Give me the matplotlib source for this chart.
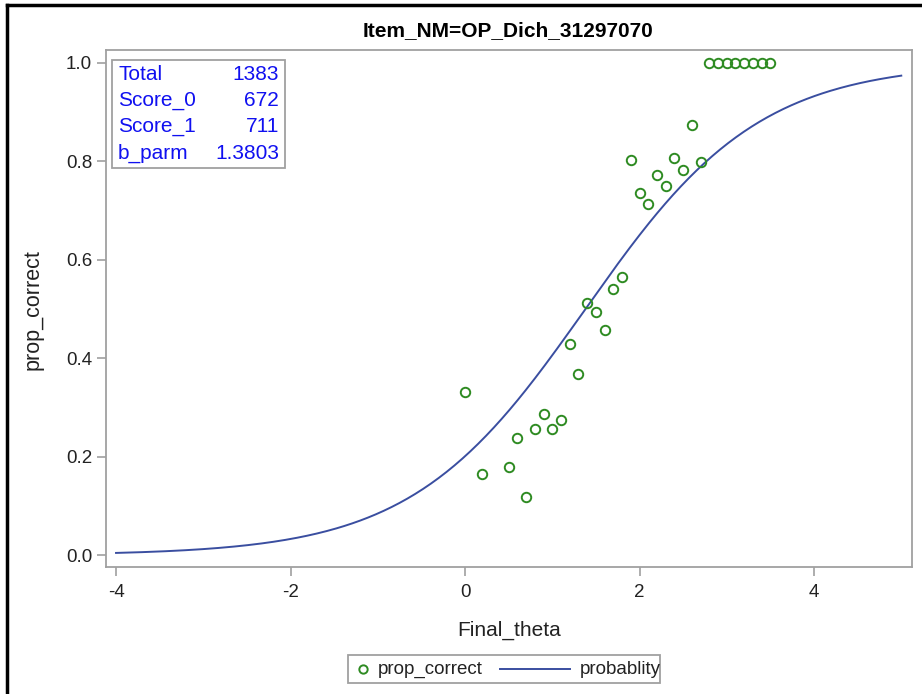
import numpy as np
import matplotlib.pyplot as plt
from matplotlib.lines import Line2D

plt.rcParams['font.family'] = ['Liberation Sans', 'DejaVu Sans']

# данные: точки prop_correct по Final_theta
theta = [0.0, 0.2, 0.5, 0.6, 0.7, 0.8, 0.9, 1.0, 1.1, 1.2, 1.3, 1.4, 1.5,
         1.6, 1.7, 1.8, 1.9, 2.0, 2.1, 2.2, 2.3, 2.4, 2.5, 2.6, 2.7,
         2.8, 2.9, 3.0, 3.1, 3.2, 3.3, 3.4, 3.5]
prop_correct = [0.331, 0.165, 0.180, 0.237, 0.118, 0.256, 0.287, 0.257, 0.274,
                0.429, 0.367, 0.512, 0.494, 0.458, 0.540, 0.564, 0.803, 0.736,
                0.713, 0.773, 0.750, 0.806, 0.782, 0.874, 0.799,
                1.0, 1.0, 1.0, 1.0, 1.0, 1.0, 1.0, 1.0]

# таблица в углу
stat_names = ['Total', 'Score_0', 'Score_1', 'b_parm']
stat_values = ['1383', '672', '711', '1.3803']
b_parm = 1.3803

# кривая вероятности (модель Раша с параметром b_parm)
theta_curve = np.linspace(-4, 5, 400)
prob_curve = 1.0 / (1.0 + np.exp(-(theta_curve - b_parm)))

W, H = 922, 694
def fx(px):
    return px / W
def fy(py):
    return 1 - py / H

fig = plt.figure(figsize=(9.22, 6.94), dpi=100)
ax = fig.add_axes([fx(106), fy(567), 806 / W, 517 / H])

green = '#2e8b22'
blue = '#3a4ea0'
grey = '#a0a0a0'
txt = '#222222'

ax.plot(theta, prop_correct, 'o', mfc='none', mec=green, ms=6.8, mew=1.4,
        zorder=3)
ax.plot(theta_curve, prob_curve, color=blue, lw=1.4, zorder=2)

ax.set_xlim(-4.115, 5.123)
ax.set_ylim(-0.024, 1.026)
ax.set_xticks([-4, -2, 0, 2, 4])
ax.set_xticklabels(['-4', '-2', '0', '2', '4'])
ax.set_yticks([0.0, 0.2, 0.4, 0.6, 0.8, 1.0])
ax.set_yticklabels(['0.0', '0.2', '0.4', '0.6', '0.8', '1.0'])
ax.tick_params(direction='out', length=6.5, width=1.2, color=grey,
               labelsize=13.5, pad=3.5, labelcolor=txt)
ax.tick_params(axis='x', pad=6)
for sp in ax.spines.values():
    sp.set_color(grey)
    sp.set_linewidth(1.3)

# подписи осей и заголовок
fig.text(fx(509), fy(630), 'Final_theta', ha='center', va='center',
         fontsize=15, color=txt)
fig.text(fx(33), fy(310), 'prop_correct', ha='center', va='center',
         rotation=90, fontsize=15.5, color=txt)
fig.text(fx(508), fy(31), 'Item_NM=OP_Dich_31297070', ha='center',
         va='center', fontsize=15, fontweight='bold')

# рамка с таблицей
box = plt.Rectangle((fx(112), fy(168)), 173 / W, 108 / H,
                    transform=fig.transFigure, fill=False, ec=grey, lw=1.3)
fig.add_artist(box)
for i, (nm, val) in enumerate(zip(stat_names, stat_values)):
    y = fy(74 + i * 26.5)
    fig.text(fx(118), y, nm, ha='left', va='center', color='#1010f0',
             fontsize=15)
    fig.text(fx(279), y, val, ha='right', va='center', color='#1010f0',
             fontsize=15)

# легенда внизу (вручную)
leg_box = plt.Rectangle((fx(348), fy(683)), 312 / W, 28 / H,
                        transform=fig.transFigure, fill=False, ec=grey,
                        lw=1.3)
fig.add_artist(leg_box)
fig.add_artist(Line2D([fx(363)], [fy(669)], ls='none', marker='o',
                      mfc='none', mec=green, ms=6, mew=1.4,
                      transform=fig.transFigure))
fig.text(fx(378), fy(669), 'prop_correct', ha='left', va='center',
         fontsize=13.5, color=txt)
fig.add_artist(Line2D([fx(500), fx(570)], [fy(669), fy(669)], color=blue,
                      lw=1.4, transform=fig.transFigure))
fig.text(fx(580), fy(669), 'probablity', ha='left', va='center',
         fontsize=13.5, color=txt)

# чёрная рамка скриншота слева и сверху
fig.add_artist(Line2D([fx(7), fx(7)], [0, fy(5)], color='black',
                      lw=2.5, transform=fig.transFigure))
fig.add_artist(Line2D([fx(7), 1], [fy(5), fy(5)], color='black',
                      lw=2.5, transform=fig.transFigure))

fig.savefig('out.png', dpi=100)
